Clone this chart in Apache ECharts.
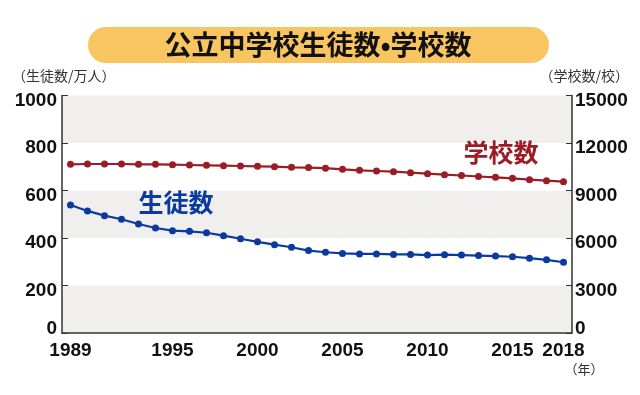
<!DOCTYPE html>
<html><head><meta charset="utf-8">
<script src="https://cdn.jsdelivr.net/npm/echarts@6/dist/echarts.min.js"></script>
<style>html,body{margin:0;padding:0;background:#fff}#c{width:640px;height:395px}</style>
</head><body><div id="c"></div>
<script>
const years = ['1989','1990','1991','1992','1993','1994','1995','1996','1997','1998','1999','2000','2001','2002','2003','2004','2005','2006','2007','2008','2009','2010','2011','2012','2013','2014','2015','2016','2017','2018'];
const xLabelYears = ['1989','1995','2000','2005','2010','2015','2018'];
const students = [539,514,494,479,459,442,431,428,422,410,397,384,372,361,347,340,335,333,333,331,331,328,330,328,326,324,321,315,308,298];
const schools = [10653,10674,10674,10674,10653,10653,10632,10611,10589,10568,10547,10526,10505,10463,10450,10410,10337,10274,10232,10189,10126,10063,10000,9947,9885,9832,9768,9684,9621,9558];
const title = '公立中学校生徒数•学校数';
const leftUnit = '（生徒数/万人）';
const rightUnit = '（学校数/校）';
const yearUnit = '（年）';
const studentsName = '生徒数';
const schoolsName = '学校数';

const NUM = '"Liberation Sans", Arial, sans-serif';
const JP = '"Noto Sans CJK JP", sans-serif';
const BLUE = '#0b3a9e';
const RED = '#9a1c24';
const numStyle = {fontFamily: NUM, fontWeight: 'bold', fontSize: 19, color: '#111'};

function yLabel(v){ return v === 0 ? '{z|0}' : '{a|' + v + '}'; }
const yRich = {
  a: Object.assign({padding: [10,0,0,0]}, numStyle),
  z: Object.assign({padding: [0,0,8,0]}, numStyle)
};

const chart = echarts.init(document.getElementById('c'), null, {renderer: 'canvas'});
chart.setOption({
  animation: false,
  backgroundColor: '#fff',
  grid: {left: 62, right: 68, top: 95.5, bottom: 62, containLabel: false},
  xAxis: {
    type: 'category', data: years, boundaryGap: true,
    axisLine: {lineStyle: {color: '#333', width: 1.5}},
    axisTick: {inside: true, length: 4, alignWithLabel: true, interval: 0, lineStyle: {color: '#333'}},
    axisLabel: Object.assign({margin: 8, hideOverlap: false, showMinLabel: true, showMaxLabel: true,
      interval: (i, v) => xLabelYears.indexOf(v) >= 0}, numStyle),
    splitLine: {show: false}
  },
  yAxis: [{
    type: 'value', min: 0, max: 1000, interval: 200, position: 'left',
    axisLine: {show: true, lineStyle: {color: '#333', width: 1.5}},
    axisTick: {show: true, inside: true, length: 6, lineStyle: {color: '#333'}},
    axisLabel: {margin: 5, formatter: yLabel, rich: yRich},
    splitLine: {show: false},
    splitArea: {show: true, areaStyle: {color: ['#f0efee', '#ffffff']}}
  }, {
    type: 'value', min: 0, max: 15000, interval: 3000, position: 'right',
    axisLine: {show: true, lineStyle: {color: '#333', width: 1.5}},
    axisTick: {show: true, inside: true, length: 6, lineStyle: {color: '#333'}},
    axisLabel: {margin: 3, formatter: yLabel, rich: yRich},
    splitLine: {show: false}
  }],
  series: [{
    name: schoolsName, type: 'line', yAxisIndex: 1, data: schools,
    symbol: 'circle', symbolSize: 7, lineStyle: {color: RED, width: 2.2},
    itemStyle: {color: RED}
  }, {
    name: studentsName, type: 'line', yAxisIndex: 0, data: students,
    symbol: 'circle', symbolSize: 7, lineStyle: {color: BLUE, width: 2.2},
    itemStyle: {color: BLUE}
  }],
  graphic: [
    {type: 'rect', z: 100, shape: {x: 88, y: 27, width: 461, height: 36, r: 18}, style: {fill: '#f9c560'}},
    {type: 'text', z: 101, x: 318, y: 45, style: {text: title, font: 'bold 27px ' + JP, fill: '#111', textAlign: 'center', textVerticalAlign: 'middle'}},
    {type: 'text', z: 100, x: 12, y: 76, style: {text: leftUnit, font: '14px ' + JP, fill: '#333', textVerticalAlign: 'middle'}},
    {type: 'text', z: 100, x: 629, y: 76, style: {text: rightUnit, font: '14px ' + JP, fill: '#333', textAlign: 'right', textVerticalAlign: 'middle'}},
    {type: 'text', z: 100, x: 584, y: 369, style: {text: yearUnit, font: '13px ' + JP, fill: '#333', textAlign: 'center', textVerticalAlign: 'middle'}},
    {type: 'text', z: 100, x: 176, y: 202, style: {text: studentsName, font: 'bold 25px ' + JP, fill: BLUE, textAlign: 'center', textVerticalAlign: 'middle'}},
    {type: 'text', z: 100, x: 501, y: 152, style: {text: schoolsName, font: 'bold 25px ' + JP, fill: RED, textAlign: 'center', textVerticalAlign: 'middle'}}
  ]
});
</script></body></html>
